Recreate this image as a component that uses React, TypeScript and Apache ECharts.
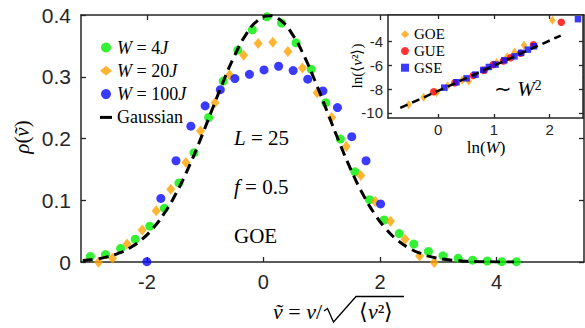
import { useEffect, useRef } from 'react';
import * as echarts from 'echarts';

// ---- main panel data ----
const W4_X = [-2.97, -2.71, -2.45, -2.2, -1.95, -1.7, -1.45, -1.19, -0.94, -0.69, -0.44, -0.19, 0.06, 0.31, 0.56, 0.82, 1.07, 1.32, 1.57, 1.82, 2.07, 2.33, 2.58, 2.83, 3.08, 3.34, 3.59, 3.84, 4.09, 4.34];
const W4_Y = [0.009, 0.012, 0.022, 0.037, 0.058, 0.087, 0.128, 0.177, 0.234, 0.293, 0.343, 0.376, 0.397, 0.387, 0.355, 0.312, 0.258, 0.199, 0.146, 0.101, 0.068, 0.046, 0.029, 0.017, 0.010, 0.006, 0.003, 0.0016, 0.0005, 0.0005];
const W20_X = [-2.83, -2.59, -2.34, -2.08, -1.84, -1.59, -1.33, -1.08, -0.83, -0.58, -0.34, -0.09, 0.16, 0.42, 0.67, 0.92, 1.17, 1.42, 1.67, 1.92, 2.18, 2.43, 2.68, 2.93];
const W20_Y = [-0.0005, 0.006, 0.029, 0.052, 0.083, 0.118, 0.161, 0.212, 0.258, 0.303, 0.335, 0.354, 0.356, 0.341, 0.314, 0.274, 0.234, 0.187, 0.140, 0.098, 0.066, 0.037, 0.0097, -0.001];
const W100_X = [-2.0, -1.76, -1.5, -1.245, -1.0, -0.74, -0.49, -0.24, 0.01, 0.26, 0.51, 0.76, 1.02, 1.27, 1.515, 1.76, 2.01];
const W100_Y = [0.0005, 0.103, 0.164, 0.22, 0.253, 0.279, 0.297, 0.304, 0.311, 0.317, 0.31, 0.296, 0.277, 0.25, 0.203, 0.164, 0.094];
const GAUSS_X = [-3.1, -2.9, -2.7, -2.5, -2.3, -2.1, -1.9, -1.7, -1.5, -1.3, -1.1, -0.9, -0.7, -0.5, -0.3, -0.1, 0.1, 0.3, 0.5, 0.7, 0.9, 1.1, 1.3, 1.5, 1.7, 1.9, 2.1, 2.3, 2.5, 2.7, 2.9, 3.1, 3.3, 3.5, 3.7, 3.9, 4.1, 4.3];
const GAUSS_Y = [0.0024, 0.0044, 0.0079, 0.0136, 0.0224, 0.0355, 0.054, 0.079, 0.1109, 0.1497, 0.1942, 0.242, 0.2897, 0.3332, 0.3683, 0.391, 0.3989, 0.391, 0.3683, 0.3332, 0.2897, 0.242, 0.1942, 0.1497, 0.1109, 0.079, 0.054, 0.0355, 0.0224, 0.0136, 0.0079, 0.0044, 0.0024, 0.0012, 0.0006, 0.0003, 0.0001, 0.0];
const MAIN_X_TICKS = [-2, 0, 2, 4];
const MAIN_Y_TICKS = [0, 0.1, 0.2, 0.3, 0.4];

// ---- inset data ----
const GOE_X = [-0.53, -0.26, -0.03, 0.17, 0.43, 0.55, 0.8, 1.05, 1.24, 1.37, 1.54, 2.05];
const GOE_Y = [-9.31, -8.69, -8.3, -7.75, -7.27, -7.33, -6.45, -5.78, -5.3, -4.92, -4.33, -2.24];
const GUE_X = [-0.08, 0.3, 0.63, 0.83, 0.99, 1.17, 1.3, 1.48, 1.71, 2.21];
const GUE_Y = [-8.22, -7.48, -6.87, -6.43, -5.95, -5.65, -5.38, -5.0, -4.3, -2.41];
const GSE_X = [0.11, 0.33, 0.51, 0.67, 0.81, 0.91, 1.03, 1.19, 1.37, 1.49, 1.61, 1.72, 2.51];
const GSE_Y = [-7.88, -7.43, -7.1, -6.79, -6.4, -6.15, -5.95, -5.59, -5.26, -4.97, -4.7, -4.42, -2.15];
const FIT_X = [-0.68, 2.2];
const FIT_Y = [-9.58, -3.52];
const INSET_X_TICKS = [0, 1, 2];
const INSET_Y_TICKS = [-10, -8, -6, -4];

const zip = (xs: number[], ys: number[]) => xs.map((x, i) => [x, ys[i]]);

const SERIF = 'Liberation Serif';
const SANS = 'Liberation Sans';
const AX = '#262626';
const GREEN = '#00ee00';
const ORANGE = '#ffa200';
const BLUE = '#0a0aff';
const RED = '#ff0000';

const LEGEND_LABEL: Record<string, string> = {
  W4: '{i|W} = 4{i|J}',
  W20: '{i|W} = 20{i|J}',
  W100: '{i|W} = 100{i|J}',
  Gaussian: 'Gaussian',
};

function axisPair(gridIndex: number, min: number, max: number, ticks: number[], pos: string, labelSize: number, margin: number, showLabel: boolean, tickLen: number) {
  return {
    type: 'value',
    gridIndex,
    min,
    max,
    position: pos,
    axisLine: { show: true, onZero: false, lineStyle: { color: AX, width: 1.5 } },
    axisTick: { show: true, inside: true, length: tickLen, customValues: ticks, lineStyle: { color: AX, width: 1.3 } },
    axisLabel: showLabel
      ? { show: true, customValues: ticks, fontSize: labelSize, fontFamily: SANS, color: AX, margin }
      : { show: false },
    splitLine: { show: false },
  };
}

export default function App() {
  const ref = useRef<HTMLDivElement>(null);
  useEffect(() => {
    if (!ref.current) return;
    const chart = echarts.init(ref.current, undefined, { renderer: 'svg' });
    const richSerif = (size: number) => ({
      i: { fontFamily: SERIF, fontStyle: 'italic', fontSize: size, lineHeight: size, color: '#000' },
      n: { fontFamily: SERIF, fontSize: size, lineHeight: size, color: '#000' },
      s: { fontFamily: SERIF, fontSize: size * 0.65, lineHeight: size, verticalAlign: 'top', color: '#000' },
    });
    chart.setOption({
      animation: false,
      backgroundColor: '#fff',
      grid: [
        { left: 81, top: 15, width: 503, height: 247, show: false },
        { left: 388, top: 15, width: 195, height: 103, show: true, backgroundColor: '#fff', borderWidth: 0, z: 3 },
      ],
      xAxis: [
        axisPair(0, -3.13, 5.5, MAIN_X_TICKS, 'bottom', 20, 10, true, 5),
        axisPair(0, -3.13, 5.5, MAIN_X_TICKS, 'top', 20, 10, false, 5),
        { ...axisPair(1, -0.9, 2.6, INSET_X_TICKS, 'bottom', 15, 4, true, 4), z: 5 },
        { ...axisPair(1, -0.9, 2.6, INSET_X_TICKS, 'top', 15, 4, false, 4), z: 5 },
      ],
      yAxis: [
        axisPair(0, 0, 0.4, MAIN_Y_TICKS, 'left', 21, 10, true, 5),
        axisPair(0, 0, 0.4, MAIN_Y_TICKS, 'right', 21, 10, false, 5),
        { ...axisPair(1, -10.42, -1.8, INSET_Y_TICKS, 'left', 15, 5, true, 4), z: 5 },
        { ...axisPair(1, -10.42, -1.8, INSET_Y_TICKS, 'right', 15, 5, false, 4), z: 5 },
      ],
      legend: [
        {
          data: [
            { name: 'W4', icon: 'circle' },
            { name: 'W20', icon: 'diamond' },
            { name: 'W100', icon: 'circle' },
            { name: 'Gaussian', icon: 'path://M0,0h12v3h-12z', itemStyle: { color: '#000' } },
          ],
          orient: 'vertical',
          left: 95,
          top: 33.5,
          itemWidth: 12,
          itemHeight: 10,
          itemGap: 5.3,
          selectedMode: false,
          formatter: (n: string) => LEGEND_LABEL[n],
          textStyle: { fontFamily: SERIF, fontSize: 18, lineHeight: 18, color: '#000', rich: richSerif(18) },
        },
        {
          data: [
            { name: 'GOE', icon: 'diamond' },
            { name: 'GUE', icon: 'circle' },
            { name: 'GSE', icon: 'rect' },
          ],
          orient: 'vertical',
          left: 396,
          top: 21.8,
          itemWidth: 8,
          itemHeight: 8,
          itemGap: 1.7,
          selectedMode: false,
          z: 6,
          textStyle: { fontFamily: SERIF, fontSize: 15, lineHeight: 15, color: '#000' },
        },
      ],
      series: [
        { type: 'scatter', name: 'W4', xAxisIndex: 0, yAxisIndex: 0, data: zip(W4_X, W4_Y), symbol: 'circle', symbolSize: 9, itemStyle: { color: GREEN }, clip: false, z: 2 },
        { type: 'scatter', name: 'W20', xAxisIndex: 0, yAxisIndex: 0, data: zip(W20_X, W20_Y), symbol: 'diamond', symbolSize: [9, 11], itemStyle: { color: ORANGE }, clip: false, z: 3 },
        { type: 'scatter', name: 'W100', xAxisIndex: 0, yAxisIndex: 0, data: zip(W100_X, W100_Y), symbol: 'circle', symbolSize: 9, itemStyle: { color: BLUE }, clip: false, z: 4 },
        { type: 'line', name: 'Gaussian', xAxisIndex: 0, yAxisIndex: 0, data: zip(GAUSS_X, GAUSS_Y), showSymbol: false, symbol: 'none', smooth: true, lineStyle: { color: '#000', width: 3, type: [10, 6] }, itemStyle: { color: '#000' }, z: 5 },
        { type: 'scatter', name: 'GOE', xAxisIndex: 2, yAxisIndex: 2, data: zip(GOE_X, GOE_Y), symbol: 'diamond', symbolSize: [6.5, 9], itemStyle: { color: ORANGE }, clip: false, z: 6 },
        { type: 'scatter', name: 'GUE', xAxisIndex: 2, yAxisIndex: 2, data: zip(GUE_X, GUE_Y), symbol: 'circle', symbolSize: 7.5, itemStyle: { color: RED }, clip: false, z: 7 },
        { type: 'scatter', name: 'GSE', xAxisIndex: 2, yAxisIndex: 2, data: zip(GSE_X, GSE_Y), symbol: 'rect', symbolSize: 6.5, itemStyle: { color: BLUE }, clip: false, z: 8 },
        { type: 'line', name: 'fit', xAxisIndex: 2, yAxisIndex: 2, data: zip(FIT_X, FIT_Y), showSymbol: false, symbol: 'none', lineStyle: { color: '#000', width: 2.5, type: [8, 5] }, z: 9 },
      ],
      graphic: [
        { type: 'text', x: 234, y: 138, z: 10, style: { text: '{i|L} = 25', rich: richSerif(21), fontFamily: SERIF, fontSize: 21, verticalAlign: 'middle', align: 'left' } },
        { type: 'text', x: 234, y: 187, z: 10, style: { text: '{i|f} = 0.5', rich: richSerif(21), fontFamily: SERIF, fontSize: 21, verticalAlign: 'middle', align: 'left' } },
        { type: 'text', x: 234, y: 236, z: 10, style: { text: '{n|GOE}', rich: richSerif(21), fontFamily: SERIF, fontSize: 21, verticalAlign: 'middle', align: 'left' } },
        { type: 'text', x: 22, y: 137, rotation: Math.PI / 2, z: 10, style: { text: '{i|ρ}{n|(}{i|v\u0303}{n|)}', rich: richSerif(21), verticalAlign: 'middle', align: 'center' } },
        // x-axis label: ṽ = v/√⟨v²⟩ (radical drawn as a polyline with overbar)
        { type: 'text', x: 322, y: 311, z: 10, style: { text: '{i|v\u0303}{n| = }{i|v}{n|/}', rich: richSerif(22), verticalAlign: 'middle', align: 'right' } },
        { type: 'polyline', z: 10, shape: { points: [[324, 311], [327.5, 308.5], [333.5, 322], [356, 296.5], [404, 296.5]] }, style: { stroke: '#000', lineWidth: 1.3, fill: null } },
        { type: 'text', x: 359, y: 311, z: 10, style: { text: '{n|⟨}{i|v}{n|²⟩}', rich: richSerif(22), verticalAlign: 'middle', align: 'left' } },
        { type: 'text', x: 357, y: 66, rotation: Math.PI / 2, z: 10, style: { text: '{n|ln(⟨}{i|v}{n|²⟩)}', rich: richSerif(15), verticalAlign: 'middle', align: 'center' } },
        { type: 'text', x: 486, y: 147, z: 10, style: { text: '{n|ln(}{i|W}{n|)}', rich: richSerif(17), verticalAlign: 'middle', align: 'center' } },
        { type: 'text', x: 494, y: 89, z: 10, style: { text: '{n|∼ }{i|W}{s|2}', rich: richSerif(21), verticalAlign: 'middle', align: 'left' } },
      ],
    });
    return () => chart.dispose();
  }, []);
  return <div ref={ref} style={{ position: 'fixed', left: 0, top: 0, width: 585, height: 328 }} />;
}
